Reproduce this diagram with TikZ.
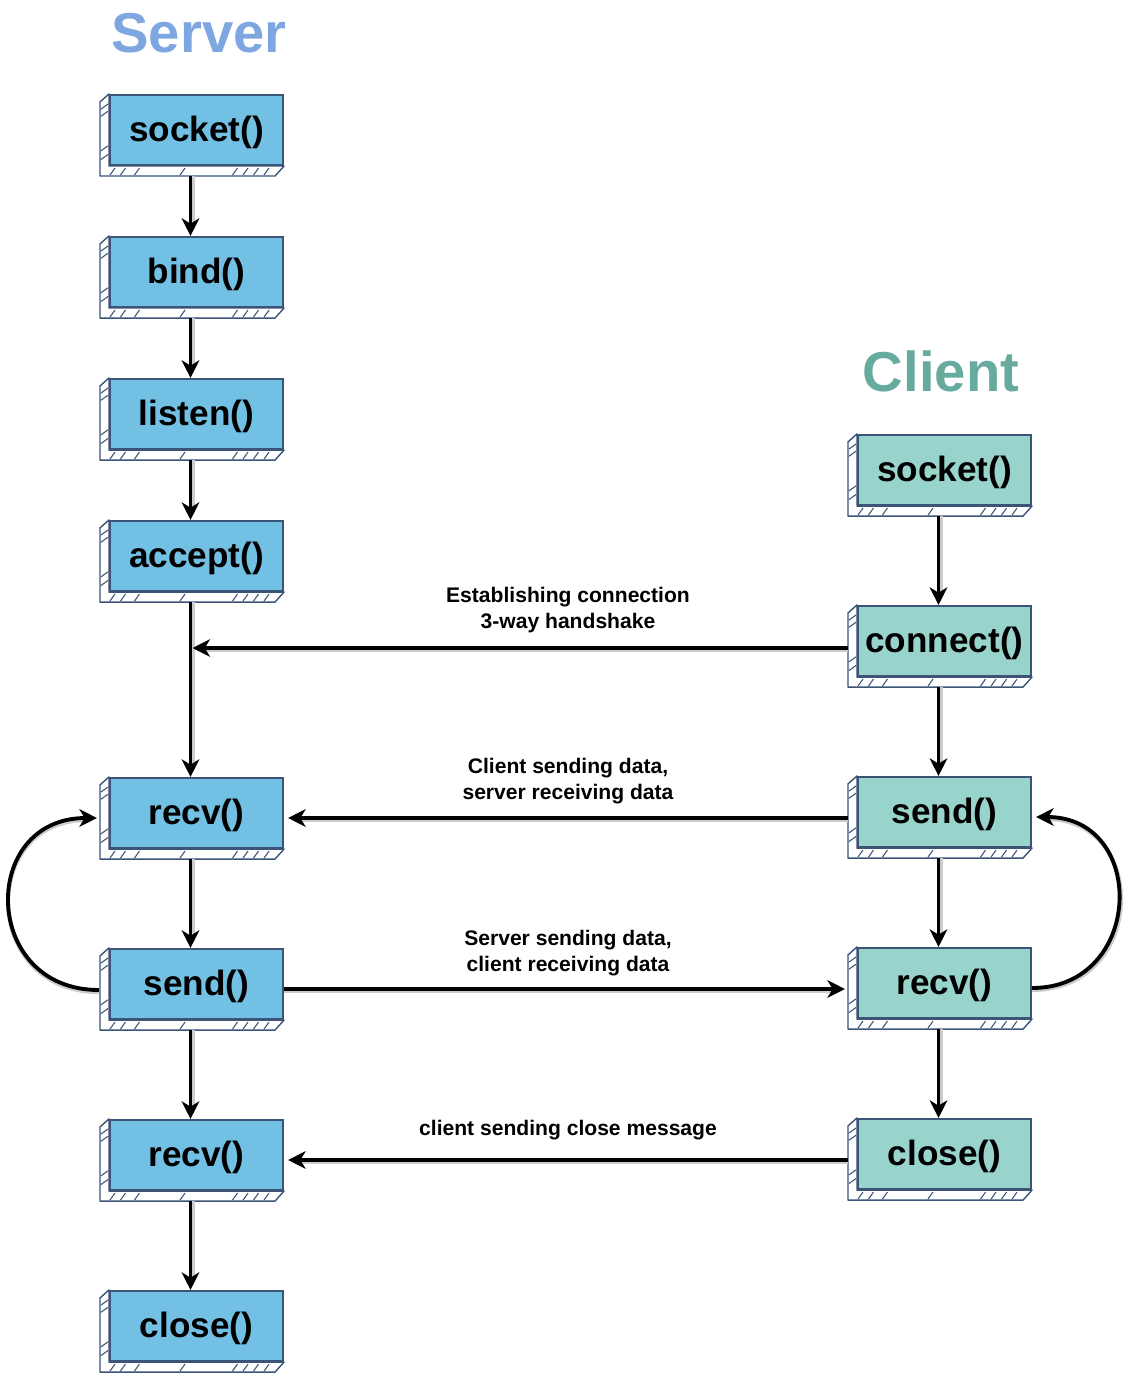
\documentclass[tikz,border=0pt]{standalone}
\usepackage{fontspec}
\setmainfont{Liberation Sans}
\usetikzlibrary{arrows.meta,calc}

\definecolor{srvtitle}{HTML}{7EA6E0}
\definecolor{clititle}{HTML}{67AB9F}
\definecolor{srvfill}{HTML}{72C0E3}
\definecolor{clifill}{HTML}{98D3CC}
\definecolor{boxline}{HTML}{3B5478}

% front face as a named node, side and bottom drawn behind it
\newcommand{\fnbox}[5]{%
  \node[fnbox, fill=#4] (#1) at (#2,#3) {#5};
  \filldraw[back] (#1.north west) -- ++(-9,8) -- ($(#1.south west)+(-9,10)$)
    -- ($(#1.south east)+(-9,10)$) -- (#1.south east) -- (#1.south west) -- cycle;
  \foreach \t in {0.14,0.24,0.72,0.84}
    \draw[hatch] ($(#1.north west)!\t!(#1.south west)+(-8,5)$) -- ++(7,-5);
  \foreach \t in {0.04,0.1,0.18,0.44,0.74,0.8,0.86,0.92}
    \draw[hatch] ($(#1.south west)!\t!(#1.south east)+(-6,9)$) -- ++(5,-7);
}

\begin{document}
\begin{tikzpicture}[x=0.02cm, y=-0.02cm,
  fnbox/.style={draw=boxline, line width=1.2pt, minimum width=3.46cm,
    minimum height=1.4cm, inner sep=0pt, text height=14pt, text depth=1pt,
    font=\fontsize{20}{24}\selectfont\bfseries},
  back/.style={fill=white, draw=boxline, line width=0.8pt, line join=round},
  hatch/.style={draw=boxline, line width=0.6pt},
  flow/.style={-{Stealth[length=10pt,width=10pt,inset=3pt]}, line width=2.2pt},
  shade/.style={draw=black!20, line width=2.4pt, shorten >=6pt},
  msg/.style={font=\fontsize{12}{14.7}\selectfont\bfseries, align=center},
  heading/.style={font=\fontsize{32}{36}\selectfont\bfseries}
]
\useasboundingbox (0,0) rectangle (1124,1378);

% Titles
\node[heading, text=srvtitle] (tsrv) at (199,33) {Server};
\node[heading, text=clititle] (tcli) at (941,371) {Client};

% Server side
\fnbox{s1}{196.5}{130}{srvfill}{socket()}
\fnbox{s2}{196.5}{272}{srvfill}{bind()}
\fnbox{s3}{196.5}{414}{srvfill}{listen()}
\fnbox{s4}{196.5}{556}{srvfill}{accept()}
\fnbox{s5}{196.5}{813}{srvfill}{recv()}
\fnbox{s6}{196.5}{984}{srvfill}{send()}
\fnbox{s7}{196.5}{1155}{srvfill}{recv()}
\fnbox{s8}{196.5}{1326}{srvfill}{close()}

% Client side
\fnbox{c1}{944.5}{470}{clifill}{socket()}
\fnbox{c2}{944.5}{641}{clifill}{connect()}
\fnbox{c3}{944.5}{812}{clifill}{send()}
\fnbox{c4}{944.5}{983}{clifill}{recv()}
\fnbox{c5}{944.5}{1154}{clifill}{close()}

% Vertical flow
\foreach \a/\b in {s1/s2,s2/s3,s3/s4,s4/s5,s5/s6,s6/s7,s7/s8,c1/c2,c2/c3,c3/c4,c4/c5}{
  \draw[shade] ($(\a.south)+(-4,10)$) -- ($(\b.north)+(-4,0)$);
  \draw[flow] ($(\a.south)+(-6,10)$) -- ($(\b.north)+(-6,0)$);
}

% Messages between the two sides
\draw[shade] ($(c2.west)+(-9,9)$) -- ($(c2.west -| s4.south)+(-4,9)$);
\draw[flow] ($(c2.west)+(-9,7)$) -- ($(c2.west -| s4.south)+(-4,7)$);
\node[msg] (m1) at (568,610) {Establishing connection\\3-way handshake};

\draw[shade] ($(c3.west)+(-9,8)$) -- ($(s5.east)+(4,7)$);
\draw[flow] ($(c3.west)+(-9,6)$) -- ($(s5.east)+(4,5)$);
\node[msg] (m2) at (568,781) {Client sending data,\\server receiving data};

\draw[shade] ($(s6.east)+(0,7)$) -- ($(c4.west)+(-12,8)$);
\draw[flow] ($(s6.east)+(0,5)$) -- ($(c4.west)+(-12,6)$);
\node[msg] (m3) at (568,953) {Server sending data,\\client receiving data};

\draw[shade] ($(c5.west)+(-9,8)$) -- ($(s7.east)+(4,7)$);
\draw[flow] ($(c5.west)+(-9,6)$) -- ($(s7.east)+(4,5)$);
\node[msg] (m4) at (568,1130) {client sending close message};

% Loops
\draw[shade] ($(s6.west)+(-10,8)$) .. controls +(-118,0) and +(-118,0) .. ($(s5.west)+(-12,7)$);
\draw[flow] ($(s6.west)+(-10,6)$) .. controls +(-118,0) and +(-118,0) .. ($(s5.west)+(-12,5)$);
\draw[shade] ($(c4.east)+(0,7)$) .. controls +(114,0) and +(114,0) .. ($(c3.east)+(4,7)$);
\draw[flow] ($(c4.east)+(0,5)$) .. controls +(112,0) and +(112,0) .. ($(c3.east)+(4,5)$);

\end{tikzpicture}
\end{document}
